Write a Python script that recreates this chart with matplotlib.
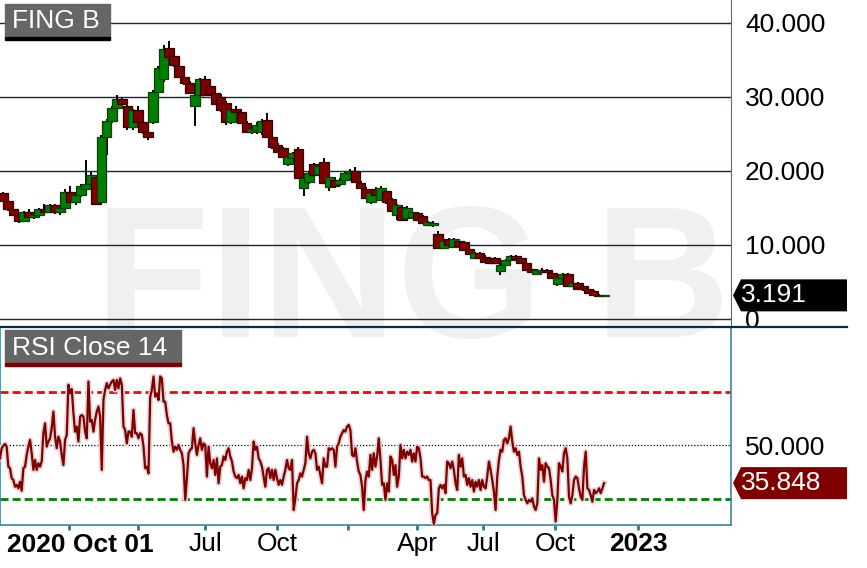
import numpy as np
import matplotlib.pyplot as plt
from matplotlib.patches import Rectangle, Polygon
from matplotlib.lines import Line2D
from matplotlib.transforms import Bbox, TransformedBbox

plt.rcParams['font.family'] = ['Liberation Sans', 'DejaVu Sans']

# weekly candles, FING B (SEK)
opens = [17.0, 15.9, 14.8, 14.0, 13.3, 14.4, 13.8, 14.1, 14.8, 14.4, 15.4, 14.5, 15.0, 17.2, 15.8, 16.7,
         17.5, 18.2, 19.2, 15.8, 24.6, 26.8, 28.5, 29.7, 28.8, 26.0, 28.2, 26.6, 25.2, 26.6, 30.7, 32.4,
         36.6, 35.5, 34.2, 32.7, 31.9, 28.8, 30.3, 32.4, 31.5, 30.6, 30.0, 29.2, 26.6, 28.4, 28.0, 26.5,
         25.3, 25.5, 25.2, 26.9, 24.6, 23.5, 23.1, 20.9, 21.8, 23.0, 17.7, 18.5, 20.9, 19.6, 21.2, 17.8,
         18.8, 18.2, 18.8, 19.7, 20.0, 18.4, 17.6, 15.8, 17.6, 16.1, 17.3, 16.2, 14.1, 15.1, 13.6, 13.8,
         14.3, 13.9, 12.7, 12.7, 11.5, 9.6, 10.8, 9.7, 10.6, 10.4, 9.5, 8.2, 8.9, 8.4, 8.2, 8.2,
         6.5, 7.3, 8.0, 8.5, 8.2, 7.6, 6.7, 6.1, 6.3, 6.6, 6.2, 4.7, 5.6, 6.1, 4.5, 4.9,
         4.5, 4.0, 3.8, 3.3, 3.05]
highs = [17.2, 16.0, 15.0, 14.2, 14.6, 14.8, 14.3, 15.0, 15.6, 15.6, 15.6, 15.2, 17.5, 18.0, 16.9, 18.2,
         21.5, 19.8, 19.4, 24.8, 27.0, 28.8, 30.3, 30.0, 28.9, 28.4, 28.8, 27.0, 25.4, 30.9, 34.2, 37.0,
         37.6, 35.8, 34.4, 33.0, 32.2, 30.5, 32.6, 32.8, 31.7, 30.8, 30.4, 29.4, 28.4, 28.8, 28.2, 26.8,
         26.0, 26.6, 27.0, 27.8, 24.8, 23.8, 23.2, 22.2, 22.6, 23.2, 19.3, 19.9, 21.1, 20.9, 21.8, 19.4,
         19.2, 19.0, 19.9, 20.2, 20.6, 18.6, 17.8, 17.2, 17.8, 17.9, 17.5, 16.4, 15.6, 15.4, 15.3, 14.6,
         14.5, 14.0, 13.2, 13.3, 11.9, 10.6, 10.9, 11.0, 10.7, 10.5, 9.8, 9.0, 9.0, 8.6, 8.3, 8.4,
         7.4, 8.1, 8.7, 8.6, 8.3, 7.7, 6.8, 6.8, 6.9, 6.7, 6.3, 5.6, 6.2, 6.2, 5.2, 5.0,
         4.6, 4.1, 3.9, 3.35, 3.3]
lows = [15.8, 14.6, 13.9, 13.0, 13.1, 13.6, 13.5, 13.8, 14.2, 14.3, 14.2, 14.0, 14.9, 15.6, 15.4, 16.5,
        17.2, 18.0, 15.5, 15.6, 22.2, 26.5, 27.6, 28.8, 25.6, 25.5, 26.2, 25.0, 24.2, 26.3, 30.5, 32.0,
        35.2, 34.0, 32.5, 31.6, 30.4, 26.1, 30.0, 30.2, 30.2, 28.9, 28.0, 26.2, 26.4, 27.8, 26.3, 25.1,
        25.0, 25.0, 24.8, 24.4, 23.0, 22.4, 21.7, 20.7, 21.0, 19.0, 16.6, 18.2, 19.3, 19.4, 18.2, 17.3,
        17.7, 17.9, 18.4, 19.4, 18.4, 17.6, 16.3, 15.6, 16.7, 15.9, 15.6, 14.4, 13.4, 13.2, 13.5, 13.6,
        13.2, 12.9, 12.6, 12.4, 9.4, 9.4, 9.9, 9.6, 9.8, 9.2, 8.7, 8.1, 8.1, 7.6, 7.5, 7.5,
        6.0, 7.2, 7.9, 8.0, 7.5, 6.5, 6.2, 6.0, 6.2, 6.2, 5.4, 4.4, 5.4, 4.4, 4.4, 4.0,
        3.8, 3.4, 3.2, 3.05, 3.0]
closes = [15.9, 14.8, 14.0, 13.3, 14.4, 13.8, 14.1, 14.8, 14.4, 15.4, 14.5, 15.0, 17.2, 15.8, 16.7, 18.0,
          18.2, 19.4, 15.6, 24.6, 26.8, 28.5, 29.7, 29.0, 26.0, 28.2, 26.6, 25.2, 24.6, 30.7, 33.9, 36.5,
          35.4, 34.3, 32.7, 31.9, 30.5, 30.3, 32.4, 30.3, 30.4, 29.1, 28.2, 26.6, 28.2, 28.0, 26.5, 25.3,
          25.7, 26.2, 26.8, 24.6, 23.2, 22.6, 21.9, 21.9, 22.4, 19.1, 19.1, 19.7, 19.5, 20.7, 18.4, 19.2,
          18.0, 18.8, 19.7, 20.0, 18.5, 17.7, 16.4, 17.0, 16.8, 17.7, 15.8, 14.6, 15.4, 13.4, 15.0, 14.4,
          13.4, 13.0, 13.1, 13.0, 9.6, 10.5, 10.0, 10.8, 9.9, 9.3, 8.8, 8.9, 8.2, 7.7, 7.6, 7.6,
          7.3, 8.0, 8.5, 8.1, 7.6, 6.6, 6.3, 6.6, 6.6, 6.3, 5.5, 5.5, 6.1, 4.5, 4.9, 4.1,
          4.0, 3.5, 3.3, 3.1, 3.191]

# RSI(14) daily
rsi = [45.1, 48.9, 49.8, 50.5, 49.5, 42.0, 41.4, 37.7, 37.0, 34.5, 35.2, 33.9, 36.4, 33.0, 41.4, 42.0,
       46.4, 49.5, 52.0, 47.0, 40.8, 44.5, 40.8, 43.3, 42.0, 44.0, 54.5, 58.2, 49.5, 51.4, 52.6, 56.4,
       62.6, 53.2, 48.9, 53.2, 51.4, 46.4, 42.6, 52.0, 53.9, 72.6, 69.4, 71.0, 62.0, 55.1, 57.0, 51.4,
       60.7, 61.3, 60.7, 55.1, 52.6, 73.8, 58.8, 59.5, 55.1, 59.5, 62.6, 64.5, 60.7, 40.8, 67.0, 70.7,
       73.2, 71.3, 72.6, 73.8, 74.4, 70.7, 74.4, 71.3, 75.0, 72.6, 57.0, 55.7, 50.7, 55.1, 55.1, 53.2,
       63.2, 54.5, 54.5, 52.6, 54.5, 53.9, 49.5, 41.4, 42.0, 39.5, 68.0, 70.7, 75.7, 68.2, 69.4, 66.9,
       75.7, 75.0, 66.3, 66.3, 61.3, 58.2, 58.2, 51.4, 47.6, 49.5, 48.3, 50.1, 48.3, 47.0, 42.6, 29.6,
       37.7, 47.0, 48.3, 48.9, 56.4, 50.7, 46.4, 50.1, 52.6, 48.3, 50.7, 50.1, 38.3, 49.5, 43.3, 41.4,
       44.5, 38.9, 45.1, 35.8, 42.0, 42.6, 45.8, 44.5, 47.6, 48.9, 45.8, 44.0, 40.2, 38.3, 37.7, 38.9,
       35.8, 38.3, 33.9, 37.7, 37.0, 40.8, 37.0, 41.4, 51.4, 48.3, 49.5, 45.1, 44.0, 42.0, 38.3, 34.5,
       40.8, 41.4, 37.7, 40.8, 37.0, 40.8, 37.7, 35.2, 37.0, 35.2, 38.3, 40.8, 44.5, 41.4, 40.8, 44.5,
       25.8, 30.1, 35.8, 37.0, 39.5, 38.3, 40.8, 43.3, 53.2, 47.0, 45.1,
       47.6, 48.3, 47.0, 40.8, 42.0, 38.9, 35.8, 45.1, 42.0, 42.0, 48.9, 48.3, 48.9, 48.3, 42.0, 49.5,
       50.7, 53.2, 54.5, 55.7, 55.1, 57.0, 57.6, 55.7, 46.4, 45.8, 48.9, 43.9, 40.2, 38.9, 34.5, 25.8,
       37.0, 40.2, 38.3, 46.4, 40.8, 47.0, 42.0, 45.8, 52.6, 44.5, 35.2, 35.8, 29.6, 35.8, 32.7, 45.8,
       44.5, 38.9, 42.6, 34.5, 38.3, 50.1, 45.1, 48.3, 45.1, 47.6, 46.4, 48.3, 43.9, 47.0, 43.9, 49.5,
       48.9, 45.1, 38.3, 38.3, 37.7, 38.3, 37.0, 37.0, 24.6, 20.6, 24.0, 24.6, 33.9, 35.2, 33.9, 35.2,
       32.1, 43.9, 43.3, 41.4, 43.9, 40.8, 35.8, 33.3, 46.4, 42.0, 45.1, 38.3, 38.9, 35.2, 37.7, 34.5,
       37.0, 32.7, 36.4, 34.5, 37.0, 33.3, 37.0, 34.5, 33.9, 38.3, 43.9, 40.8, 37.0, 32.7, 25.8, 38.3,
       44.5, 48.3, 47.6, 52.0, 52.6, 50.7, 52.6, 57.0, 51.4, 47.6, 48.9, 46.4, 47.6, 42.0, 38.3, 31.4,
       29.6, 28.3, 29.6, 28.9, 30.2, 27.1, 25.8, 28.3, 45.1, 40.8, 42.6, 36.4, 43.3, 42.0, 41.4, 37.0,
       31.4, 29.6, 21.5, 29.6, 43.3, 42.0, 40.2, 47.0, 48.9, 45.1, 30.8, 28.3, 31.4, 37.0, 38.3, 37.7,
       33.9, 30.8, 29.6, 42.0, 47.6, 33.9, 33.3, 31.4, 28.9, 33.3, 32.1, 32.7, 33.9, 32.1, 33.9, 35.848]

price_ticks = [0, 10, 20, 30, 40]
# tick positions in candle units (one candle per week)
tick_pos = [12.74, 26.06, 39.0, 52.9, 66.6, 79.9, 92.7, 106.6, 122.6]
tick_labels = ['', '', 'Jul', 'Oct', '', 'Apr', 'Jul', 'Oct', '2023']

W, H = 867, 568
fig = plt.figure(figsize=(W / 100, H / 100), dpi=100)
fig.patch.set_facecolor('white')


def fx(px):
    return px / W


def fy(py):
    return 1 - py / H


teal = '#2c7a96'
navy = '#0c2c3c'

ax1 = fig.add_axes([0, fy(326), fx(731), 326 / H])
ax2 = fig.add_axes([0, fy(525), fx(731), (525 - 327) / H])
for a in (ax1, ax2):
    a.set_facecolor('none')
    a.set_xlim(-0.58, 140.5)

# watermark, clipped at the right edge of the plot area
wm = fig.text(fx(413), fy(337), 'FING B', fontsize=135, fontweight='bold', color='#f0f0f0',
              ha='center', va='baseline', zorder=-1)
wm.set_clip_box(TransformedBbox(Bbox([[0, 0], [fx(731), 1]]), fig.transFigure))
wm.set_clip_on(True)

# ---- price panel
n = len(closes)
x = np.arange(n)
o = np.array(opens)
c = np.array(closes)
up = c >= o
ax1.vlines(x, lows, highs, color='black', lw=1.4, zorder=2)
ax1.bar(x, c - o, bottom=o, width=1.85,
        color=np.where(up, '#008000', '#7f0000'),
        edgecolor=np.where(up, '#0b3d0b', '#330000'), lw=0.9, zorder=3)
for v in price_ticks:
    ax1.axhline(v, color=navy, lw=1, zorder=1)
ax1.set_ylim(-0.95, 43.1)
ax1.set_xticks([])
ax1.yaxis.tick_right()
ax1.set_yticks(price_ticks)
ax1.set_yticklabels(['0' if v == 0 else f'{v:.3f}' for v in price_ticks])
ax1.tick_params(axis='y', length=0, pad=10, labelsize=19)
for s in ('left', 'top', 'bottom'):
    ax1.spines[s].set_visible(False)
ax1.spines['right'].set_color(teal)

# ---- RSI panel
rsi_x = np.linspace(-0.58, n - 1, len(rsi))
ax2.axhline(70, color='#ff0000', lw=2, dashes=(2.9, 1.45), zorder=2)
ax2.axhline(30, color='#008000', lw=2, dashes=(2.9, 1.45), zorder=2)
ax2.axhline(50, color='black', lw=0.9, dashes=(1, 1.5), zorder=2)
ax2.plot(rsi_x, rsi, color='#e4d6d6', lw=4, zorder=3, solid_joinstyle='round')
ax2.plot(rsi_x, rsi, color='#800000', lw=1.6, zorder=4)
ax2.set_ylim(20.2, 94.2)
ax2.yaxis.tick_right()
ax2.set_yticks([50])
ax2.set_yticklabels(['50.000'])
ax2.tick_params(axis='y', length=0, pad=10, labelsize=19)
ax2.set_xticks(tick_pos)
ax2.set_xticklabels(tick_labels)
ax2.tick_params(axis='x', direction='out', length=3.6, width=2, color=teal,
                pad=1.5, labelsize=19)
for lab in ax2.get_xticklabels():
    if lab.get_text() == '2023':
        lab.set_fontweight('bold')
for s in ax2.spines.values():
    s.set_color(teal)
    s.set_linewidth(1.1)
ax2.text(7 / 731, -0.1, '2020 Oct 01', transform=ax2.transAxes, fontsize=19,
         fontweight='bold', ha='left', va='center')

# separator between panels
fig.add_artist(Line2D([0, fx(847)], [fy(326.5), fy(326.5)], color=navy, lw=1.6))

# panel title boxes
fig.add_artist(Rectangle((fx(5), fy(37)), fx(105), 33 / H, color='#666666'))
fig.add_artist(Rectangle((fx(5), fy(39.5)), fx(105), 2.5 / H, color='black'))
fig.text(fx(12), fy(28), 'FING B', fontsize=19, color='white', ha='left', va='baseline')
fig.add_artist(Rectangle((fx(5), fy(363)), fx(176), 33 / H, color='#666666'))
fig.add_artist(Rectangle((fx(5), fy(366)), fx(176), 3 / H, color='#800000'))
fig.text(fx(12), fy(355), 'RSI Close 14', fontsize=19, color='white', ha='left', va='baseline')


# last-value tags on the right
def value_tag(ax, val, text, col):
    yc = H - ax.transData.transform((0, val))[1]
    pts = [(733, yc), (741, yc - 16), (847, yc - 16), (847, yc + 16), (741, yc + 16)]
    fig.add_artist(Polygon([(fx(a), fy(b)) for a, b in pts], closed=True,
                           facecolor=col, edgecolor='none', zorder=5))
    fig.text(fx(741), fy(yc + 6.5), text, fontsize=19, color='white',
             ha='left', va='baseline', zorder=6)


value_tag(ax1, closes[-1], f'{closes[-1]:.3f}', 'black')
value_tag(ax2, rsi[-1], f'{rsi[-1]:.3f}', '#800000')

fig.savefig('out.png', dpi=100)
